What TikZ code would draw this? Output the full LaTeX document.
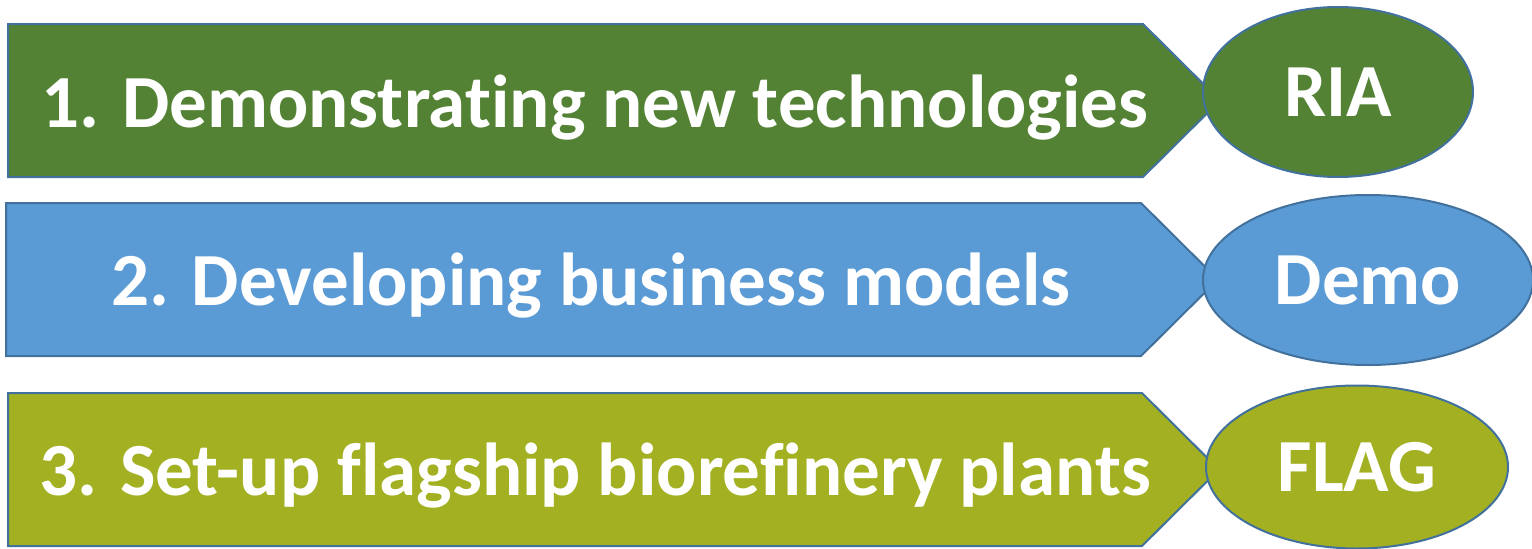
\documentclass[tikz,border=0pt]{standalone}
\usepackage{fontspec}
\setmainfont[Ligatures=NoCommon]{Carlito}
\usetikzlibrary{shapes.geometric}

\definecolor{greenbox}{HTML}{548235}
\definecolor{bluebox}{HTML}{5B9BD5}
\definecolor{limebox}{HTML}{A2B021}
\definecolor{edgeblue}{HTML}{41719C}

\tikzset{
  arrowbox/.style={draw=edgeblue, line width=2pt, line join=miter},
  boxtext/.style={text=white, anchor=base, inner sep=0pt,
    font=\fontsize{75}{90}\selectfont\bfseries},
  tag/.style={ellipse, draw=edgeblue, line width=2pt, inner sep=0pt,
    text=white, font=\fontsize{75}{90}\selectfont\bfseries}
}

\begin{document}
\begin{tikzpicture}[x=1pt, y=-1pt]
  \useasboundingbox (0,0) rectangle (1532,549);

  % arrow boxes
  \draw[arrowbox, fill=greenbox] (8,24) -- (1143,24) -- (1220,100.5) -- (1143,177) -- (8,177) -- cycle;
  \draw[arrowbox, fill=bluebox] (6,203) -- (1141,203) -- (1218,279.5) -- (1141,356) -- (6,356) -- cycle;
  \draw[arrowbox, fill=limebox] (8,393) -- (1142,393) -- (1219,469.5) -- (1142,546) -- (8,546) -- cycle;

  \node[boxtext] (step1) at (595,127) {1. Demonstrating new technologies};
  \node[boxtext] (step2) at (591,305) {2. Developing business models};
  \node[boxtext] (step3) at (595,495) {3. Set-up flagship biorefinery plants};

  % funding types
  \node[tag, fill=greenbox, minimum width=270pt, minimum height=170pt] (ria) at (1338,92) {RIA};
  \node[tag, fill=bluebox, minimum width=330pt, minimum height=170pt] (demo) at (1368,280) {Demo};
  \node[tag, fill=limebox, minimum width=302pt, minimum height=163pt] (flag) at (1357,467) {FLAG};
\end{tikzpicture}
\end{document}
